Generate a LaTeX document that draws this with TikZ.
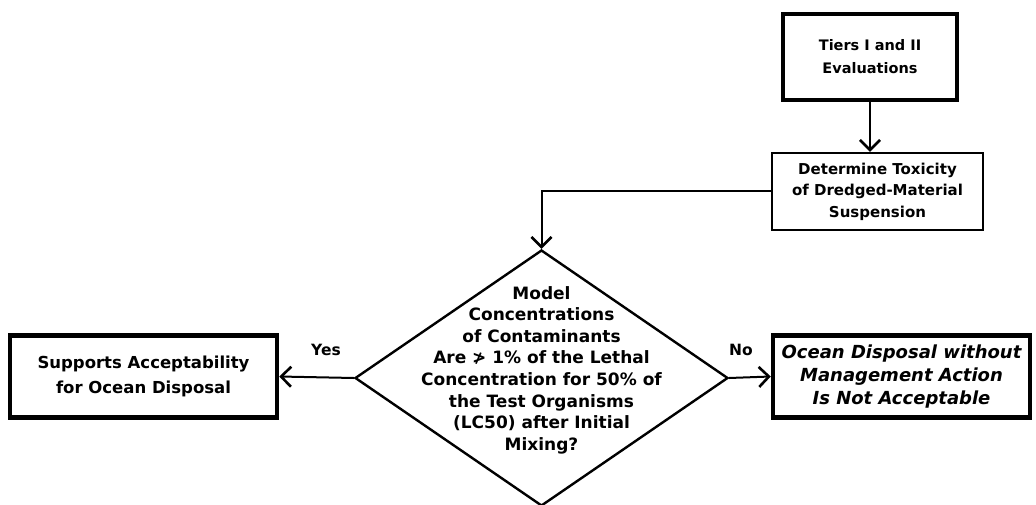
\documentclass[tikz,border=0pt]{standalone}
\usepackage{fontspec}
\setmainfont{DejaVu Sans}
\usetikzlibrary{shapes.geometric,arrows.meta}
\begin{document}
\begin{tikzpicture}[x=1pt,y=-1pt,
  txt/.style={align=center, inner sep=0pt},
  sz/.style 2 args={font=\bfseries\fontsize{#1}{#2}\selectfont},
  heavybox/.style={draw, line width=4.5pt, txt},
  lightbox/.style={draw, line width=2.4pt, txt},
  flow/.style={line width=2pt, -{Straight Barb[length=10pt,width=20pt,line width=2.6pt]}}]
\useasboundingbox (0,0) rectangle (1036,505);

% process boxes
\node[heavybox, sz={14.5}{23}, minimum width=174, minimum height=86] (tiers) at (870,57)
  {Tiers I and II\\Evaluations};
\node[lightbox, sz={15}{21.5}, minimum width=211, minimum height=77] (det) at (877.5,191.5)
  {Determine Toxicity\\of Dredged-Material\\Suspension};

% decision
\node[draw, shape=diamond, line width=2.4pt, minimum width=373, minimum height=256,
      inner sep=0pt] (dec) at (541.5,378) {};
\node[txt, sz={17}{21.6}] (q) at (541.5,370)
  {Model\\Concentrations\\of Contaminants\\Are ≯ 1\% of the Lethal\\
   Concentration for 50\% of\\the Test Organisms\\(LC50) after Initial\\Mixing?};

% outcomes
\node[heavybox, sz={16.5}{25}, minimum width=267, minimum height=82] (yes) at (143.5,376.5)
  {Supports Acceptability\\for Ocean Disposal};
\node[heavybox, minimum width=257, minimum height=82,
      font=\bfseries\itshape\fontsize{18}{23}\selectfont]
  (no) at (901.5,376.5)
  {Ocean Disposal without\\Management Action\\Is Not Acceptable};

\node[txt, sz={15.5}{18}] (ylab) at (326,350) {Yes};
\node[txt, sz={15.5}{18}] (nlab) at (741,350) {No};

% connectors
\draw[flow] (tiers.south) -- (tiers.south |- det.north);
\draw[flow] (det.west) -| (dec.north);
\draw[flow] (dec.west) -- (yes.east);
\draw[flow] (dec.east) -- (no.west);
\end{tikzpicture}
\end{document}
